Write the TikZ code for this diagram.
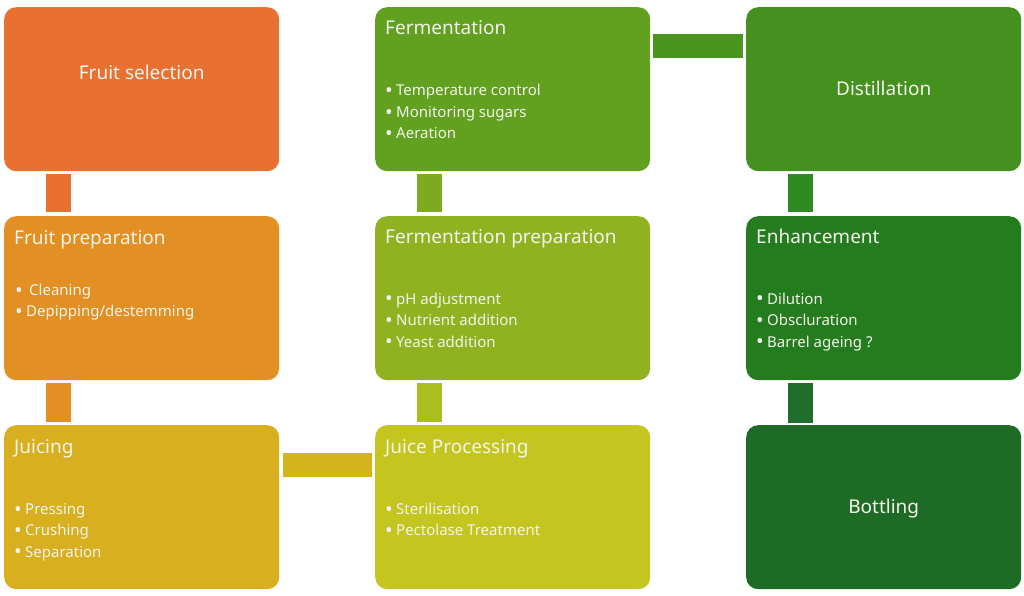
\documentclass[tikz,border=0pt]{standalone}
\usepackage{fontspec}
\usepackage{graphicx}
\setmainfont{Noto Sans}
\usetikzlibrary{calc}
\definecolor{cFsel}{HTML}{E87132}
\definecolor{cFprep}{HTML}{E28F24}
\definecolor{cJuic}{HTML}{D8AF1E}
\definecolor{cJp}{HTML}{C4C51F}
\definecolor{cFerp}{HTML}{91B220}
\definecolor{cFerm}{HTML}{62A020}
\definecolor{cDist}{HTML}{45911F}
\definecolor{cEnh}{HTML}{247C1F}
\definecolor{cBott}{HTML}{1E6B26}
\definecolor{kJ}{HTML}{D4B41E}
\definecolor{kJp}{HTML}{AABE20}
\definecolor{kFerp}{HTML}{7DAA21}
\definecolor{kFerm}{HTML}{4A9420}
\definecolor{kDist}{HTML}{2E8B22}
\definecolor{kEnh}{HTML}{206E2A}
\definecolor{txt}{HTML}{F4F4EC}
\begin{document}
\begin{tikzpicture}[x=1pt,y=-1pt,
  box/.style={draw=none, rounded corners=12pt, minimum width=275pt, minimum height=164pt, inner sep=0pt, anchor=north west},
  title/.style={text=txt, font=\fontsize{19}{23}\selectfont, anchor=base west, inner sep=0pt},
  ctitle/.style={text=txt, font=\fontsize{19}{23}\selectfont, anchor=base, inner sep=0pt},
  item/.style={text=txt, font=\fontsize{15}{18}\selectfont, anchor=base west, inner sep=0pt},
  vbar/.style={line width=25pt},
  hbar/.style={line width=24pt}]
\fill[white] (0,0) rectangle (1024,596);
\useasboundingbox (0,0) rectangle (1024,596);
\newcommand{\bul}{\makebox[11pt][l]{\raisebox{-1.9pt}{\scalebox{1.35}{•}}}}
% boxes
\node[box, fill=cFsel]  (fsel)  at (4,7)     {};
\node[box, fill=cFprep] (fprep) at (4,216)   {};
\node[box, fill=cJuic]  (juic)  at (4,425)   {};
\node[box, fill=cJp]    (jp)    at (375,425) {};
\node[box, fill=cFerp]  (ferp)  at (375,216) {};
\node[box, fill=cFerm]  (ferm)  at (375,7)   {};
\node[box, fill=cDist]  (dist)  at (746,7)   {};
\node[box, fill=cEnh]   (enh)   at (746,216) {};
\node[box, fill=cBott]  (bott)  at (746,425) {};
% connectors
\draw[vbar, cFsel]  ($(fsel.south west)+(54.5,3)$)  -- ($(fprep.north west)+(54.5,-4)$);
\draw[vbar, cFprep] ($(fprep.south west)+(54.5,3)$) -- ($(juic.north west)+(54.5,-3)$);
\draw[hbar, kJ]     ($(juic.north east)+(4,40)$)    -- ($(jp.north west)+(-3,40)$);
\draw[vbar, kJp]    ($(jp.north west)+(54.5,-3)$)   -- ($(ferp.south west)+(54.5,3)$);
\draw[vbar, kFerp]  ($(ferp.north west)+(54.5,-4)$) -- ($(ferm.south west)+(54.5,3)$);
\draw[hbar, kFerm]  ($(ferm.north east)+(3,39)$)    -- ($(dist.north west)+(-3,39)$);
\draw[vbar, kDist]  ($(dist.south west)+(54.5,3)$)  -- ($(enh.north west)+(54.5,-4)$);
\draw[vbar, kEnh]   ($(enh.south west)+(54.5,3)$)   -- ($(bott.north west)+(54.5,-2)$);
% centred titles
\node[ctitle] (tfsel) at ($(fsel.north)+(0,72.5)$) {Fruit selection};
\node[ctitle] (tdist) at ($(dist.north)+(0,88.5)$) {Distillation};
\node[ctitle] (tbott) at ($(bott.north)+(0,88)$) {Bottling};
% fruit preparation
\node[title] (tfprep) at ($(fprep.north west)+(10,28)$) {Fruit preparation};
\node[item] (fp1) at ($(fprep.north west)+(11,79.7)$) {\bul\hspace{3pt}Cleaning};
\node[item] (fp2) at ($(fprep.north west)+(11,100.7)$) {\bul Depipping/destemming};
% juicing
\node[title] (tjuic) at ($(juic.north west)+(10,28)$) {Juicing};
\node[item] (j1) at ($(juic.north west)+(10,89.5)$) {\bul Pressing};
\node[item] (j2) at ($(juic.north west)+(10,110.5)$) {\bul Crushing};
\node[item] (j3) at ($(juic.north west)+(10,132)$) {\bul Separation};
% juice processing
\node[title] (tjp) at ($(jp.north west)+(10,28)$) {Juice Processing};
\node[item] (jp1) at ($(jp.north west)+(10,89.5)$) {\bul Sterilisation};
\node[item] (jp2) at ($(jp.north west)+(10,110.5)$) {\bul Pectolase Treatment};
% fermentation preparation
\node[title] (tferp) at ($(ferp.north west)+(10,27.5)$) {Fermentation preparation};
\node[item] (fr1) at ($(ferp.north west)+(10,88)$) {\bul pH adjustment};
\node[item] (fr2) at ($(ferp.north west)+(10,109.5)$) {\bul Nutrient addition};
\node[item] (fr3) at ($(ferp.north west)+(10,131)$) {\bul Yeast addition};
% fermentation
\node[title] (tferm) at ($(ferm.north west)+(10,27.5)$) {Fermentation};
\node[item] (fm1) at ($(ferm.north west)+(10,89)$) {\bul Temperature control};
\node[item] (fm2) at ($(ferm.north west)+(10,110.5)$) {\bul Monitoring sugars};
\node[item] (fm3) at ($(ferm.north west)+(10,132)$) {\bul Aeration};
% enhancement
\node[title] (tenh) at ($(enh.north west)+(10,27.5)$) {Enhancement};
\node[item] (e1) at ($(enh.north west)+(10,88)$) {\bul Dilution};
\node[item] (e2) at ($(enh.north west)+(10,109.5)$) {\bul Obscluration};
\node[item] (e3) at ($(enh.north west)+(10,131)$) {\bul Barrel ageing ?};
\end{tikzpicture}
\end{document}
